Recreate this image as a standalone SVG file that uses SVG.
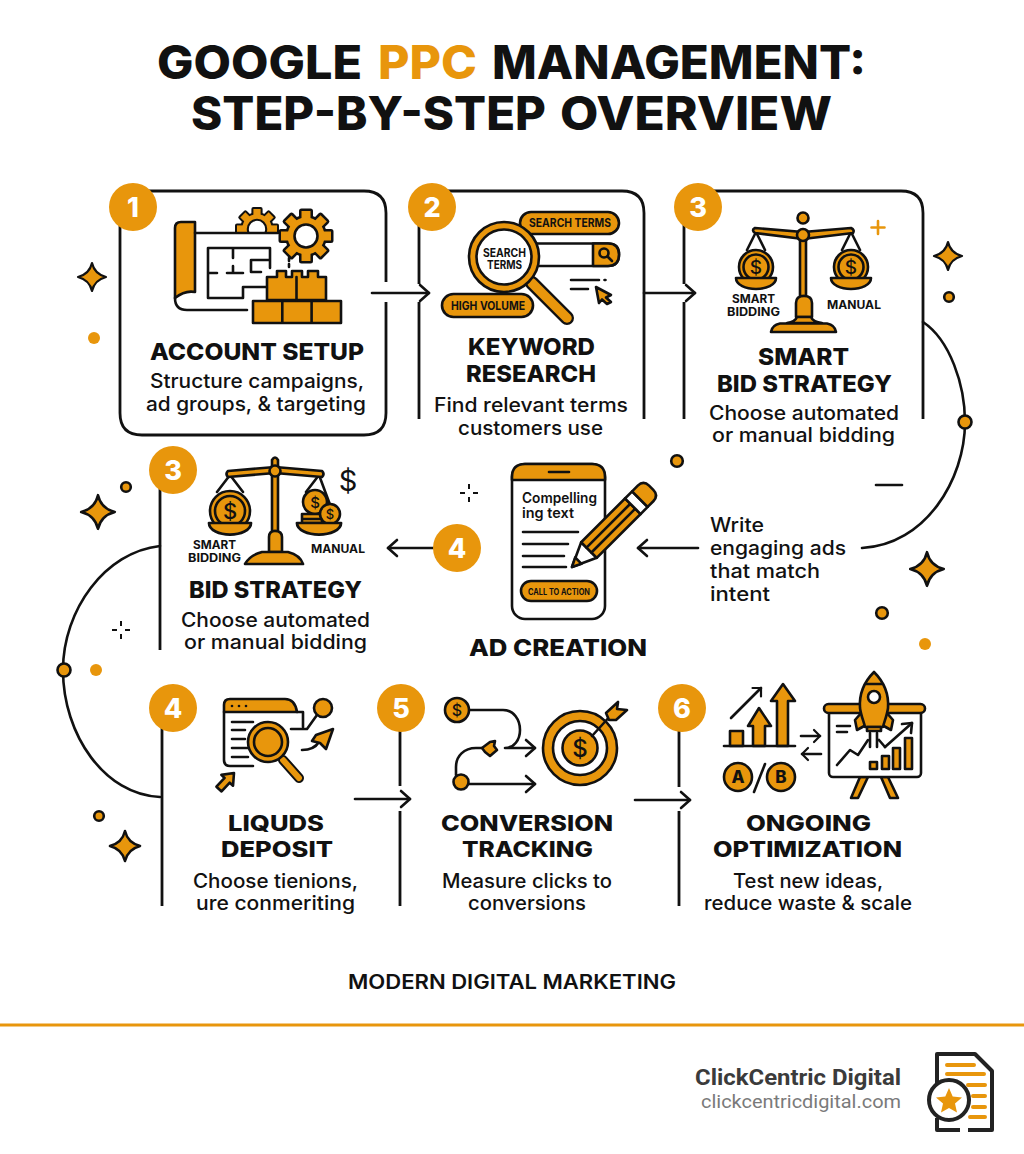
<svg xmlns="http://www.w3.org/2000/svg" xmlns:xlink="http://www.w3.org/1999/xlink" width="1024" height="1154" viewBox="0 0 1024 1154">
<style>
text{font-family:"Inter","Liberation Sans",sans-serif;fill:#111}
.t{font-size:46px;font-weight:800}
.h{font-size:23.5px;font-weight:800}
.h2{font-size:21.6px;font-weight:800}
.b{font-size:19.5px;font-weight:500}
.s{font-size:11.5px;font-weight:700}
.n{font-size:27px;font-weight:800;fill:#fff;text-anchor:middle}
.d{font-weight:500;text-anchor:middle}
.k{fill:none;stroke:#111;stroke-width:2.6;stroke-linecap:round;stroke-linejoin:round}
.o{fill:#E8960C;stroke:#111;stroke-width:2.6;stroke-linejoin:round;stroke-linecap:round}
.w{fill:#fff;stroke:#111;stroke-width:2.6;stroke-linejoin:round}
.f{fill:#E8960C}
.e{fill:none;stroke:#111;stroke-width:2.8;stroke-linecap:butt}
.p{fill:none;stroke:#E8960C;stroke-width:4;stroke-linecap:round}
</style>
<defs>
<marker id="chev" markerUnits="userSpaceOnUse" markerWidth="24" markerHeight="24" refX="12" refY="12" orient="auto" overflow="visible"><path d="M3 4L12 12L3 20" fill="none" stroke="#111" stroke-width="2.6" stroke-linecap="round" stroke-linejoin="round"/></marker>
<marker id="chevS" markerUnits="userSpaceOnUse" markerWidth="16" markerHeight="16" refX="8" refY="8" orient="auto" overflow="visible"><path d="M2 2L8 8L2 14" fill="none" stroke="#111" stroke-width="2.2" stroke-linecap="round" stroke-linejoin="round"/></marker>
<path id="star" d="M0-14Q2.5-3 14 0Q2.5 3 0 14Q-2.5 3-14 0Q-2.5-3 0-14Z" fill="#E8960C" stroke="#111" stroke-width="2.2" stroke-linejoin="round"/>
<path id="sparkle" d="M0-9V-4M0 4V9M-9 0H-4M4 0H9" fill="none" stroke="#111" stroke-width="2"/>
<g id="gearS"><circle r="18.5"/><rect x="-4.5" y="-25" width="9" height="10"/><rect x="-4.5" y="-25" width="9" height="10" transform="rotate(45)"/><rect x="-4.5" y="-25" width="9" height="10" transform="rotate(90)"/><rect x="-4.5" y="-25" width="9" height="10" transform="rotate(135)"/><rect x="-4.5" y="-25" width="9" height="10" transform="rotate(180)"/><rect x="-4.5" y="-25" width="9" height="10" transform="rotate(225)"/><rect x="-4.5" y="-25" width="9" height="10" transform="rotate(270)"/><rect x="-4.5" y="-25" width="9" height="10" transform="rotate(315)"/></g>
<g id="gear"><use href="#gearS" fill="#111" stroke="#111" stroke-width="5" stroke-linejoin="round"/><use href="#gearS" fill="#E8960C"/><circle r="11.5" fill="#fff" stroke="#111" stroke-width="2.6"/></g>
<path id="pan" d="M-20 0H20C20 7 10 11 0 11C-10 11-20 7-20 0Z" class="o"/>
<clipPath id="gc"><rect x="225" y="195" width="70" height="37"/></clipPath>
</defs>
<rect width="1024" height="1154" fill="#fff"/>

<g id="title">
<text class="t" y="79"><tspan x="157" textLength="205" lengthAdjust="spacingAndGlyphs">GOOGLE</tspan> <tspan x="378" textLength="99" lengthAdjust="spacingAndGlyphs" fill="#E8960C">PPC</tspan> <tspan x="492" textLength="374" lengthAdjust="spacingAndGlyphs">MANAGEMENT:</tspan></text>
<text class="t" y="130"><tspan x="191" textLength="355" lengthAdjust="spacingAndGlyphs">STEP-BY-STEP</tspan> <tspan x="560" textLength="272" lengthAdjust="spacingAndGlyphs">OVERVIEW</tspan></text>
</g>

<g id="connectors">
<path class="k" d="M372 293H429" marker-end="url(#chev)"/>
<path class="k" d="M644 293H695" marker-end="url(#chev)"/>
<path class="k" d="M923 322C950 340 965 385 965 422C965 480 925 545 862 548"/>
<path class="k" d="M698 548H638" marker-end="url(#chev)"/>
<path class="k" d="M435 548H388" marker-end="url(#chev)"/>
<path class="k" d="M160 546C105 552 63 610 63 670C63 735 105 795 160 797"/>
<path class="k" d="M355 799H410" marker-end="url(#chev)"/>
<path class="k" d="M635 800H690" marker-end="url(#chev)"/>
<circle class="o" cx="965" cy="422" r="6.500"/>
<circle class="o" cx="64" cy="670" r="6.500"/>
</g>

<g id="decor">
<use href="#star" x="92" y="277"/>
<circle class="f" cx="94" cy="338" r="6"/>
<use href="#star" x="948" y="256"/>
<circle class="o" cx="949" cy="297" r="4.800"/>
<path d="M878 221V234M871.500 227.500H884.500" fill="none" stroke="#E8960C" stroke-width="2.6" stroke-linecap="round"/>
<path d="M876 485H902" class="k"/>
<use href="#star" transform="translate(927 569) scale(1.2)"/>
<circle class="o" cx="882" cy="613" r="5.800"/>
<circle class="f" cx="925" cy="644" r="6"/>
<circle class="o" cx="677" cy="461" r="5.800"/>
<use href="#sparkle" x="469" y="493"/>
<use href="#star" transform="translate(98 512) scale(1.2)"/>
<circle class="o" cx="126" cy="487" r="4.800"/>
<use href="#sparkle" x="121" y="630"/>
<circle class="f" cx="96" cy="670" r="6"/>
<circle class="o" cx="99" cy="816" r="4.800"/>
<use href="#star" transform="translate(125 846) scale(1.08)"/>
</g>

<g id="node-account-setup">
<path class="e" d="M386 282V213Q386 191 364 191H142Q120 191 120 213V413Q120 435 142 435H364Q386 435 386 413V302"/>
<circle class="f" cx="133" cy="207" r="24"/><text class="n" x="133" y="217">1</text>
<g clip-path="url(#gc)"><use href="#gear" transform="translate(257 229) scale(.8)"/></g>
<path class="o" d="M175 292V228Q175 222 181 222H195V292Q185 290 175 298Z"/>
<path class="k" d="M195 233H278M175 298Q175 310 187 310H247"/>
<path class="k" d="M208 248H270V268M208 248V298H243M208 273H217M227 273H243M233 248V258M233 266V273M251 260H270M251 260V272H261M243 287H270M243 287V298"/>
<use href="#gear" x="306" y="236"/>
<path class="k" d="M289 258V267" stroke-dasharray="3 3"/>
<path class="o" d="M253 301H282.300V323H253ZM282.300 301H311.600V323H282.300ZM311.600 301H341V323H311.600Z"/>
<path class="o" d="M267 277H277V271H286V277H292V271H302V277H308V271H318V277H326V300H267Z"/>
<path class="k" d="M296.500 277V300"/>
<text class="h" x="150" y="360" textLength="214" lengthAdjust="spacingAndGlyphs">ACCOUNT SETUP</text>
<text class="b" x="150" y="388" textLength="214" lengthAdjust="spacingAndGlyphs">Structure campaigns,</text>
<text class="b" x="146" y="411" textLength="220" lengthAdjust="spacingAndGlyphs">ad groups, &amp; targeting</text>
</g>

<g id="node-keyword-research">
<path class="e" d="M419 207V284M419 302V419M644 419V213Q644 191 622 191H430"/>
<circle class="f" cx="432" cy="207" r="24"/><text class="n" x="432" y="217">2</text>
<rect class="o" x="520" y="212" width="99" height="22" rx="11"/>
<text class="s" x="529" y="227" textLength="82" lengthAdjust="spacingAndGlyphs">SEARCH TERMS</text>
<path class="w" d="M535 243.500H608Q619 243.500 619 254.500Q619 266 608 266H535Z"/>
<path class="o" d="M593 243.500H608Q619 243.500 619 254.500Q619 266 608 266H593Z"/>
<circle class="k" cx="604" cy="253" r="4.500"/><path class="k" d="M607.500 256.500L612 261"/>
<path d="M532 283L567 318" stroke="#111" stroke-width="14" stroke-linecap="round"/>
<path d="M532 283L567 318" stroke="#E8960C" stroke-width="9.500" stroke-linecap="round"/>
<circle class="o" cx="504" cy="257" r="35"/>
<circle class="w" cx="504" cy="257" r="27.500"/>
<text class="s" x="483" y="257" textLength="43" lengthAdjust="spacingAndGlyphs">SEARCH</text>
<text class="s" x="487" y="269" textLength="35" lengthAdjust="spacingAndGlyphs">TERMS</text>
<rect class="o" x="442" y="294" width="91" height="23" rx="11.500"/>
<text class="s" x="451" y="309.500" textLength="74" lengthAdjust="spacingAndGlyphs">HIGH VOLUME</text>
<path class="k" d="M571 280H599M571 289H588M604.500 280H605.500"/>
<path class="o" d="M596 287L611 295L606 297.500L611 302L607 304L602 299.500L599 303Z"/>
<text class="h" x="468" y="355" textLength="127" lengthAdjust="spacingAndGlyphs">KEYWORD</text>
<text class="h" x="466" y="382" textLength="130" lengthAdjust="spacingAndGlyphs">RESEARCH</text>
<text class="b" x="434" y="412" textLength="194" lengthAdjust="spacingAndGlyphs">Find relevant terms</text>
<text class="b" x="458" y="435" textLength="145" lengthAdjust="spacingAndGlyphs">customers use</text>
</g>

<g id="node-smart-bid-strategy">
<path class="e" d="M684 207V284M684 302V419M923 419V213Q923 191 901 191H700"/>
<circle class="f" cx="698" cy="207" r="24"/><text class="n" x="698" y="217">3</text>
<path class="o" d="M800 235H806V296H800Z"/>
<path class="k" d="M756 232L747 250M756 232L765 250M851 232L842 250M851 232L860 250"/>
<path class="o" d="M755 228L803 232L851 228Q855 230 853 233L803 239L755 233Q751 230 755 228Z"/>
<circle class="o" cx="803" cy="218" r="5.500"/>
<circle class="o" cx="803" cy="235" r="6"/>
<circle class="o" cx="756" cy="267" r="17"/><circle class="k" cx="756" cy="267" r="12.500"/>
<circle class="o" cx="851" cy="267" r="17"/><circle class="k" cx="851" cy="267" r="12.500"/>
<text class="d" x="756" y="274" font-size="19">$</text>
<text class="d" x="851" y="274" font-size="19">$</text>
<use href="#pan" x="756" y="278"/>
<use href="#pan" x="851" y="278"/>
<path class="o" d="M796 317V303Q796 296 804 296Q812 296 812 303V317Z"/>
<path class="o" d="M787 323Q795 322 797 317H811Q813 322 822 323Z"/>
<path class="o" d="M771 332Q772 325 780 323.500H827Q835 325 836 332Z"/>
<text class="s" x="732" y="303" textLength="43" lengthAdjust="spacingAndGlyphs">SMART</text>
<text class="s" x="727" y="316" textLength="53" lengthAdjust="spacingAndGlyphs">BIDDING</text>
<text class="s" x="827" y="309" textLength="54" lengthAdjust="spacingAndGlyphs">MANUAL</text>
<text class="h" x="758" y="365" textLength="91" lengthAdjust="spacingAndGlyphs">SMART</text>
<text class="h" x="717" y="392" textLength="175" lengthAdjust="spacingAndGlyphs">BID STRATEGY</text>
<text class="b" x="709" y="420" textLength="190" lengthAdjust="spacingAndGlyphs">Choose automated</text>
<text class="b" x="712" y="442" textLength="183" lengthAdjust="spacingAndGlyphs">or manual bidding</text>
</g>

<g id="node-bid-strategy">
<path class="e" d="M160 470V650"/>
<circle class="f" cx="173" cy="470" r="24"/><text class="n" x="173" y="480">3</text>
<path class="k" d="M230 475L217 492M230 475L243 492M319 475L306 492M319 475L332 510"/>
<path class="o" d="M272 466H278V531H272Z"/>
<path class="o" d="M228 471L275 467L322 471Q325 474 322 477L275 473L228 477Q225 474 228 471Z"/>
<path class="o" d="M272 470V460Q275 455 278 460V470Z"/>
<circle class="o" cx="275" cy="471" r="5.500"/>
<circle class="o" cx="230" cy="511" r="20"/><circle class="k" cx="230" cy="511" r="15"/>
<text class="d" x="230" y="519" font-size="22">$</text>
<use href="#pan" transform="translate(230 523) scale(1.05)"/>
<circle class="o" cx="315" cy="502" r="12"/>
<text class="d" x="315" y="508" font-size="15">$</text>
<path class="o" d="M302 514H322V519H302ZM302 519H322V523H302Z"/>
<circle class="o" cx="330" cy="514" r="10"/>
<text class="d" x="330" y="519" font-size="13">$</text>
<use href="#pan" transform="translate(319 523) scale(1.1 1.05)"/>
<path class="o" d="M269 552V537Q269 531 275 531Q282 531 282 537V552Z"/>
<path class="o" d="M245 564Q250 555 262 552H288Q300 555 303 564Z"/>
<text x="348" y="491" font-size="29" font-weight="400" text-anchor="middle">$</text>
<text class="s" x="193" y="549" textLength="43" lengthAdjust="spacingAndGlyphs">SMART</text>
<text class="s" x="188" y="562" textLength="53" lengthAdjust="spacingAndGlyphs">BIDDING</text>
<text class="s" x="311" y="553" textLength="54" lengthAdjust="spacingAndGlyphs">MANUAL</text>
<text class="h" x="189" y="598" textLength="173" lengthAdjust="spacingAndGlyphs">BID STRATEGY</text>
<text class="b" x="181" y="627" textLength="189" lengthAdjust="spacingAndGlyphs">Choose automated</text>
<text class="b" x="184" y="649" textLength="183" lengthAdjust="spacingAndGlyphs">or manual bidding</text>
</g>

<g id="node-ad-creation">
<circle class="f" cx="457" cy="548" r="24"/><text class="n" x="457" y="558">4</text>
<rect class="w" x="512" y="464" width="93" height="155" rx="13"/>
<path class="o" d="M512 480V477Q512 464 525 464H592Q605 464 605 477V480Z"/>
<path class="k" d="M549 472H569"/>
<text x="522" y="503" font-size="14" font-weight="600" textLength="75" lengthAdjust="spacingAndGlyphs">Compelling</text>
<text x="522" y="518" font-size="14" font-weight="600" textLength="52" lengthAdjust="spacingAndGlyphs">ing text</text>
<path class="k" d="M523 532H578M523 544H568M523 556H564M523 567H566"/>
<rect class="o" x="521" y="581" width="76" height="20" rx="10"/>
<text x="528" y="595" font-size="8.500" font-weight="700" textLength="62" lengthAdjust="spacingAndGlyphs">CALL TO ACTION</text>
<g transform="translate(572 567) rotate(-45)">
<path class="w" d="M0 0L24-11V11Z"/>
<path class="o" d="M0 0L9-4.500V4.500Z"/>
<path class="o" d="M24-11H86V11H24Z"/>
<path class="k" d="M24-3.500H86M24 3.500H86"/>
<rect class="w" x="86" y="-11" width="10" height="22"/>
<path class="o" d="M96-11H104Q112-11 112-3V3Q112 11 104 11H96Z"/>
</g>
<text class="h" x="469" y="656" textLength="178" lengthAdjust="spacingAndGlyphs">AD CREATION</text>
<text class="b" x="710" y="532" textLength="54" lengthAdjust="spacingAndGlyphs">Write</text>
<text class="b" x="710" y="555" textLength="136" lengthAdjust="spacingAndGlyphs">engaging ads</text>
<text class="b" x="710" y="578" textLength="110" lengthAdjust="spacingAndGlyphs">that match</text>
<text class="b" x="710" y="601" textLength="60" lengthAdjust="spacingAndGlyphs">intent</text>
</g>

<g id="node-liquds-deposit">
<path class="e" d="M162 708V906"/>
<circle class="f" cx="173" cy="708" r="24"/><text class="n" x="173" y="718">4</text>
<path class="o" d="M224 712V705Q224 699 230 699H285Q295 699 297 712Z"/>
<path class="k" d="M224 712V760Q224 766 230 766H253M297 712H303V727M291 729H307L317 715"/>
<circle cx="232" cy="706" r="1.300" fill="#111"/><circle cx="239" cy="706" r="1.300" fill="#111"/><circle cx="246" cy="706" r="1.300" fill="#111"/>
<path class="k" d="M232 722H253M232 730H245M232 739H245M232 748H248M232 757H248"/>
<circle class="o" cx="323" cy="708" r="9"/>
<path d="M283 760L299 778" stroke="#111" stroke-width="10" stroke-linecap="round"/>
<path d="M283 760L299 778" stroke="#E8960C" stroke-width="6" stroke-linecap="round"/>
<circle class="o" cx="268" cy="742" r="20"/><circle class="k" cx="268" cy="742" r="14"/>
<path class="k" d="M302 750Q314 750 319 742"/>
<path class="o" d="M333 729L326 749L320 743L312 741L316 735Z"/>
<path class="o" d="M0 0L8 10H3.500V22H-3.500V10H-8Z" transform="translate(234 773) rotate(43)"/>
<text class="h2" x="228" y="831" textLength="96" lengthAdjust="spacingAndGlyphs">LIQUDS</text>
<text class="h2" x="221" y="857" textLength="112" lengthAdjust="spacingAndGlyphs">DEPOSIT</text>
<text class="b" x="193" y="888" textLength="165" lengthAdjust="spacingAndGlyphs">Choose tienions,</text>
<text class="b" x="196" y="910" textLength="159" lengthAdjust="spacingAndGlyphs">ure conmeriting</text>
</g>

<g id="node-conversion-tracking">
<path class="e" d="M400 708V786M400 811V906"/>
<circle class="f" cx="401" cy="708" r="24"/><text class="n" x="401" y="718">5</text>
<path class="k" d="M469 710H503C514 710 520 720 520 730C520 740 514 748 505 748H535" marker-end="url(#chev)"/>
<path class="k" d="M483 748H476C464 748 456 756 456 767V775"/>
<path class="k" d="M469 784H535" marker-end="url(#chev)"/>
<circle class="o" cx="457" cy="710" r="12"/>
<text class="d" x="457" y="716" font-size="16">$</text>
<path class="o" d="M482 748L490 742L495 741L494 746L497 750L490 756L485 752Z" stroke-width="1.600"/>
<circle class="o" cx="461" cy="782" r="7.500"/>
<circle class="o" cx="580" cy="748" r="37"/>
<circle class="w" cx="580" cy="748" r="27"/>
<circle class="o" cx="580" cy="748" r="17.500"/>
<text class="d" x="580" y="757" font-size="24">$</text>
<path class="k" d="M592 736L612 714"/>
<path class="o" d="M606 713L618 702L617 709L627 710L616 720L609 720Z"/>
<text class="h2" x="441" y="831" textLength="172" lengthAdjust="spacingAndGlyphs">CONVERSION</text>
<text class="h2" x="462" y="857" textLength="131" lengthAdjust="spacingAndGlyphs">TRACKING</text>
<text class="b" x="442" y="888" textLength="170" lengthAdjust="spacingAndGlyphs">Measure clicks to</text>
<text class="b" x="468" y="910" textLength="118" lengthAdjust="spacingAndGlyphs">conversions</text>
</g>

<g id="node-ongoing-optimization">
<path class="e" d="M679 708V787M679 811V906"/>
<circle class="f" cx="682" cy="708" r="24"/><text class="n" x="682" y="718">6</text>
<rect class="o" x="730" y="731" width="13" height="15"/>
<path class="o" d="M753 746V726H748L759 708L771 726H765V746Z"/>
<path class="o" d="M777 746V701H771L783 684L795 701H788V746Z"/>
<path class="k" d="M724 746H795"/>
<path class="k" d="M731 718L761 688" marker-end="url(#chevS)"/>
<circle class="o" cx="738" cy="777" r="14"/>
<circle class="o" cx="781" cy="777" r="14"/>
<text x="738" y="783" font-size="17" font-weight="800" text-anchor="middle">A</text>
<text x="781" y="783" font-size="17" font-weight="800" text-anchor="middle">B</text>
<path class="k" d="M754 792L765 764"/>
<path class="k" d="M801 736H820" marker-end="url(#chevS)"/>
<path class="k" d="M821 754H802" marker-end="url(#chevS)"/>
<path class="o" d="M851 798L860 777H868L858 798Z"/>
<path class="o" d="M898 798L888 777H881L890 798Z"/>
<rect class="w" x="829" y="710" width="92" height="67" rx="4"/>
<rect class="o" x="824" y="704" width="101" height="9" rx="4.500"/>
<path class="k" d="M837 726H850M837 732H847"/>
<path class="k" d="M837 765L850 750L858 755L868 740M885 747L912 723"/>
<path class="k" d="M912 723L902 724M912 723L911 733"/>
<path class="k" d="M870 733V747M877 733V747M879 740L885 747"/>
<path class="o" d="M870 762H877V769H870ZM882 756H889V769H882ZM893 748H900V769H893ZM905 738H912V769H905Z"/>
<path d="M860 700H888V713H860Z" fill="#fff"/>
<path class="o" d="M862 712L855 720L857 730L866 725ZM886 712L893 720L891 730L882 725Z"/>
<path class="o" d="M874 672C884 682 889 695 888 708C887 716 884 722 883 727H865C864 722 861 716 860 708C859 695 864 682 874 672Z"/>
<path class="k" d="M866 684H882"/>
<circle class="w" cx="874" cy="697" r="6"/>
<path class="o" d="M867 727H881V731H867Z"/>
<text class="h2" x="746" y="831" textLength="125" lengthAdjust="spacingAndGlyphs">ONGOING</text>
<text class="h2" x="713" y="857" textLength="189" lengthAdjust="spacingAndGlyphs">OPTIMIZATION</text>
<text class="b" x="733" y="888" textLength="150" lengthAdjust="spacingAndGlyphs">Test new ideas,</text>
<text class="b" x="704" y="910" textLength="208" lengthAdjust="spacingAndGlyphs">reduce waste &amp; scale</text>
</g>

<g id="footer">
<text x="348" y="989" font-size="20" font-weight="600" textLength="328" lengthAdjust="spacingAndGlyphs">MODERN DIGITAL MARKETING</text>
<path d="M0 1025H1024" stroke="#E8960C" stroke-width="3"/>
<text x="695" y="1085" font-size="22" font-weight="700" style="font-family:Roboto,'Liberation Sans',sans-serif;fill:#3b3b3b" textLength="206" lengthAdjust="spacingAndGlyphs">ClickCentric Digital</text>
<text x="701" y="1108" font-size="18.500" style="font-family:Roboto,'Liberation Sans',sans-serif;fill:#7a7a7a" textLength="200" lengthAdjust="spacingAndGlyphs">clickcentricdigital.com</text>
<g id="logo">
<path d="M937 1083V1054H975L992 1071V1130H968M937 1118V1130H960" fill="none" stroke="#222" stroke-width="4" stroke-linejoin="round"/>
<path class="p" d="M947 1065H974M947 1074H984M968 1085H985M973 1096H985M973 1107H985M970 1117H985"/>
<circle cx="949" cy="1100" r="20" fill="#fff" stroke="#222" stroke-width="4"/>
<path class="f" d="M949 1088L952.700 1096.500L962 1097.500L955 1103.500L957 1112.500L949 1108L941 1112.500L943 1103.500L936 1097.500L945.300 1096.500Z"/>
</g>
</g>
</svg>
